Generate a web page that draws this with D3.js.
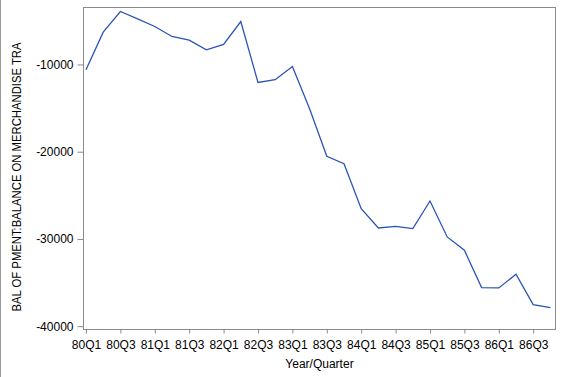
<!DOCTYPE html>
<html><head><meta charset="utf-8">
<script src="https://cdn.jsdelivr.net/npm/d3@7"></script>
<style>body{margin:0;background:#fff}svg{display:block}</style>
</head><body><svg id="c" width="570" height="377"></svg>
<script>
const quarters = ["80Q1","80Q2","80Q3","80Q4","81Q1","81Q2","81Q3","81Q4","82Q1","82Q2","82Q3","82Q4","83Q1","83Q2","83Q3","83Q4","84Q1","84Q2","84Q3","84Q4","85Q1","85Q2","85Q3","85Q4","86Q1","86Q2","86Q3","86Q4"];
const balance = [-10600,-6300,-3930,-4770,-5650,-6790,-7220,-8320,-7710,-5080,-12060,-11750,-10230,-15070,-20530,-21370,-26530,-28740,-28550,-28820,-25650,-29770,-31300,-35570,-35610,-34050,-37520,-37860];
const xTickLabels = ["80Q1","80Q3","81Q1","81Q3","82Q1","82Q3","83Q1","83Q3","84Q1","84Q3","85Q1","85Q3","86Q1","86Q3"];
const yTicks = [-40000,-30000,-20000,-10000];
const xTitle = "Year/Quarter";
const yTitle = "BAL OF PMENT:BALANCE ON MERCHANDISE TRA";

const svg = d3.select("#c");
const font = "'Liberation Sans', Arial, sans-serif";
const L = 83.5, R = 555.5, T = 7.5, B = 329.5;
const x = d3.scaleLinear().domain([0, quarters.length - 1]).range([86, 550.4]);
const y = d3.scaleLinear().domain([-40380, -3470]).range([B, T]);

// outer left border
svg.append("line").attr("x1",0.5).attr("x2",0.5).attr("y1",0).attr("y2",377).attr("stroke","#999").attr("stroke-width",1);

// frame
svg.append("rect").attr("x",L).attr("y",T).attr("width",R-L).attr("height",B-T)
  .attr("fill","none").attr("stroke","#8a8a8a").attr("stroke-width",1);

// y axis
const yAxis = d3.axisLeft(y).tickValues(yTicks).tickSize(6).tickPadding(4).tickFormat(d3.format("d"));
const gy = svg.append("g").attr("transform",`translate(${L},0)`).call(yAxis);
gy.select(".domain").remove();
gy.selectAll(".tick line").attr("stroke","#8a8a8a");
gy.selectAll(".tick text").attr("font-family",font).attr("font-size",12).attr("fill","#000")
  .text(d => d < 0 ? "-" + Math.abs(d) : d);

// x axis
const xAxis = d3.axisBottom(x)
  .tickValues(xTickLabels.map(l => quarters.indexOf(l)))
  .tickFormat(i => quarters[i]).tickSize(4).tickPadding(7);
const gx = svg.append("g").attr("transform",`translate(0,${B})`).call(xAxis);
gx.select(".domain").remove();
gx.selectAll(".tick line").attr("stroke","#8a8a8a");
gx.selectAll(".tick text").attr("font-family",font).attr("font-size",12).attr("fill","#000");

// titles
svg.append("text").attr("x",(L+R)/2).attr("y",368).attr("text-anchor","middle")
  .attr("font-family",font).attr("font-size",12).attr("fill","#000").text(xTitle);
svg.append("text").attr("transform","translate(21,177) rotate(-90)").attr("text-anchor","middle")
  .attr("font-family",font).attr("font-size",12).attr("fill","#000")
  .attr("textLength",269).attr("lengthAdjust","spacingAndGlyphs").text(yTitle);

// line
const line = d3.line().x((d,i) => x(i)).y(d => y(d));
svg.append("path").datum(balance).attr("d",line).attr("fill","none")
  .attr("stroke","#2a54b6").attr("stroke-width",1.3).attr("stroke-linejoin","miter");
</script></body></html>
